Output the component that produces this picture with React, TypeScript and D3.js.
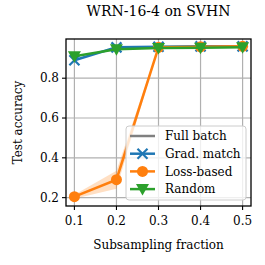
import React from 'react';
import * as d3 from 'd3';

const fractions = [0.1, 0.2, 0.3, 0.4, 0.5];
const gradMatch = [0.89, 0.955, 0.958, 0.96, 0.96];
const lossBased = [0.205, 0.29, 0.955, 0.958, 0.96];
const lossLow = [0.195, 0.245, 0.95, 0.955, 0.957];
const lossHigh = [0.215, 0.335, 0.96, 0.961, 0.963];
const randomSel = [0.91, 0.945, 0.952, 0.953, 0.955];
const xTicks = [0.1, 0.2, 0.3, 0.4, 0.5];
const yTicks = [0.2, 0.4, 0.6, 0.8];

const W = 265;
const H = 265;
const margin = { top: 39, right: 14, bottom: 59, left: 66 };
const iw = W - margin.left - margin.right;
const ih = H - margin.top - margin.bottom;

const font = '"DejaVu Serif", serif';
const blue = '#1f77b4';
const orange = '#ff7f0e';
const green = '#2ca02c';
const grey = '#808080';

const x = d3.scaleLinear().domain([0.08, 0.52]).range([0, iw]);
const y = d3.scaleLinear().domain([0.158, 0.997]).range([ih, 0]);

const line = d3.line<number>().x((_, i) => x(fractions[i])).y(d => y(d));
const band = d3.area<number>()
    .x((_, i) => x(fractions[i]))
    .y0((_, i) => y(lossLow[i]))
    .y1((_, i) => y(lossHigh[i]));

const XMark = ({ cx, cy, color }: { cx: number; cy: number; color: string }) => (
    <g stroke={color} strokeWidth={2.2}>
        <line x1={cx - 5} y1={cy - 5} x2={cx + 5} y2={cy + 5} />
        <line x1={cx - 5} y1={cy + 5} x2={cx + 5} y2={cy - 5} />
    </g>
);
const Circle = ({ cx, cy, color }: { cx: number; cy: number; color: string }) => (
    <circle cx={cx} cy={cy} r={5.5} fill={color} />
);
const Tri = ({ cx, cy, color }: { cx: number; cy: number; color: string }) => (
    <path d={`M${cx - 6.5},${cy - 5} L${cx + 6.5},${cy - 5} L${cx},${cy + 6.5} Z`} fill={color} />
);

const legendItems = [
    { label: 'Full batch', color: grey, mark: null as any },
    { label: 'Grad. match', color: blue, mark: XMark },
    { label: 'Loss-based', color: orange, mark: Circle },
    { label: 'Random', color: green, mark: Tri },
];

export default function App() {
    return (
        <svg width={W} height={H} style={{ position: 'absolute', left: 0, top: 0 }} fontFamily={font}>
            <rect width={W} height={H} fill="white" />
            <text x={margin.left + iw / 2} y={16} textAnchor="middle" fontSize={14}>WRN-16-4 on SVHN</text>
            <g transform={`translate(${margin.left},${margin.top})`}>
                {xTicks.map(t => (
                    <line key={'gx' + t} x1={x(t)} x2={x(t)} y1={0} y2={ih} stroke="#b0b0b0" strokeWidth={1.2} />
                ))}
                {yTicks.map(t => (
                    <line key={'gy' + t} x1={0} x2={iw} y1={y(t)} y2={y(t)} stroke="#b0b0b0" strokeWidth={1.2} />
                ))}
                <path d={line(gradMatch) ?? ''} fill="none" stroke={blue} strokeWidth={2.5} />
                {gradMatch.map((v, i) => <XMark key={'b' + i} cx={x(fractions[i])} cy={y(v)} color={blue} />)}
                <path d={band(lossBased) ?? ''} fill={orange} fillOpacity={0.25} />
                <path d={line(lossBased) ?? ''} fill="none" stroke={orange} strokeWidth={2.5} />
                {lossBased.map((v, i) => <Circle key={'o' + i} cx={x(fractions[i])} cy={y(v)} color={orange} />)}
                <path d={line(randomSel) ?? ''} fill="none" stroke={green} strokeWidth={2.5} />
                {randomSel.map((v, i) => <Tri key={'g' + i} cx={x(fractions[i])} cy={y(v)} color={green} />)}
                <rect x={0} y={0} width={iw} height={ih} fill="none" stroke="black" strokeWidth={1.3} />
                {xTicks.map(t => (
                    <g key={'tx' + t} transform={`translate(${x(t)},${ih})`}>
                        <line y2={4} stroke="black" strokeWidth={1.1} />
                        <text y={19} textAnchor="middle" fontSize={12}>{t.toFixed(1)}</text>
                    </g>
                ))}
                {yTicks.map(t => (
                    <g key={'ty' + t} transform={`translate(0,${y(t)})`}>
                        <line x2={-4} stroke="black" strokeWidth={1.1} />
                        <text x={-7} dy="0.35em" textAnchor="end" fontSize={12}>{t.toFixed(1)}</text>
                    </g>
                ))}
                <g transform={`translate(${126 - margin.left},${126 - margin.top})`}>
                    <rect x={0} y={0} width={120} height={74} rx={3} fill="white" fillOpacity={0.8} stroke="#cccccc" />
                    {legendItems.map((it, i) => {
                        const cy = 10 + i * 17.7;
                        const M = it.mark;
                        return (
                            <g key={it.label}>
                                <line x1={4} x2={29} y1={cy} y2={cy} stroke={it.color} strokeWidth={2.5} />
                                {M && <M cx={16.5} cy={cy} color={it.color} />}
                                <text x={39} y={cy} dy="0.35em" fontSize={12}>{it.label}</text>
                            </g>
                        );
                    })}
                </g>
            </g>
            <text x={margin.left + iw / 2} y={249} textAnchor="middle" fontSize={12}>Subsampling fraction</text>
            <text transform={`translate(22,${margin.top + ih / 2}) rotate(-90)`} textAnchor="middle" fontSize={12}>Test accuracy</text>
        </svg>
    );
}
